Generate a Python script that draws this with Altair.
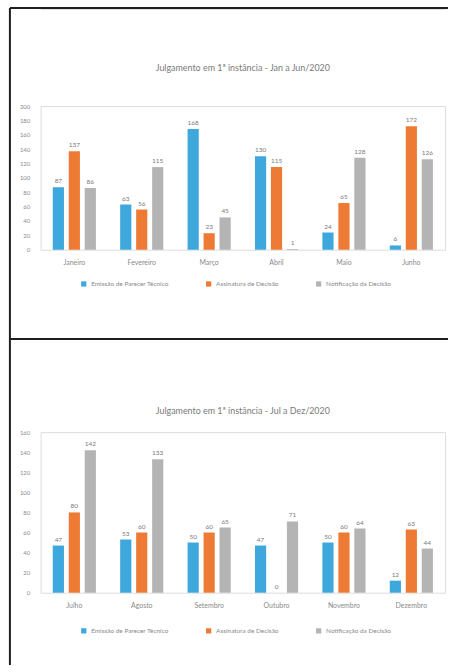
import altair as alt
import pandas as pd

series = ["Emissão de Parecer Técnico", "Assinatura de Decisão", "Notificação da Decisão"]
colors = ["#3ea8dc", "#ee7b35", "#b4b4b4"]

meses1 = ["Janeiro", "Fevereiro", "Março", "Abril", "Maio", "Junho"]
emissao1 = [87, 63, 168, 130, 24, 6]
assinatura1 = [137, 56, 23, 115, 65, 172]
notificacao1 = [86, 115, 45, 1, 128, 126]

meses2 = ["Julho", "Agosto", "Setembro", "Outubro", "Novembro", "Dezembro"]
emissao2 = [47, 53, 50, 47, 50, 12]
assinatura2 = [80, 60, 60, 0, 60, 63]
notificacao2 = [142, 133, 65, 71, 64, 44]

title1 = "Julgamento em 1ª instância - Jan a Jun/2020"
title2 = "Julgamento em 1ª instância - Jul a Dez/2020"

FONT = "Lato"
TXT = "#8a8a8a"
W = 408


def make_df(meses, a, b, c):
    rows = []
    for i, m in enumerate(meses):
        for s, vals in zip(series, (a, b, c)):
            rows.append({"mes": m, "serie": s, "valor": vals[i]})
    return pd.DataFrame(rows)


def panel(df, meses, title, ymax, height, toff, legy):
    x = alt.X(
        "mes:N", sort=meses, title=None,
        scale=alt.Scale(paddingInner=0.36, paddingOuter=0.18),
        axis=alt.Axis(labelAngle=0, domain=False, ticks=False, labelFontSize=7,
                      labelColor=TXT, labelPadding=9, labelFont=FONT),
    )
    xo = alt.XOffset("serie:N", sort=series, scale=alt.Scale(paddingInner=0.3))
    y = alt.Y(
        "valor:Q", title=None,
        scale=alt.Scale(domain=[0, ymax], nice=False),
        axis=alt.Axis(values=list(range(0, ymax + 1, 20)), grid=False, domain=False,
                      ticks=False, labelFontSize=6, labelColor=TXT, labelPadding=11,
                      labelFont=FONT),
    )
    color = alt.Color(
        "serie:N", sort=series,
        scale=alt.Scale(domain=series, range=colors),
        legend=alt.Legend(title=None, orient="none", legendX=40, legendY=legy,
                          direction="horizontal",
                          symbolType="square", symbolSize=28, labelFontSize=6.5,
                          labelColor=TXT, labelFont=FONT, columnPadding=36),
    )
    base = alt.Chart(df)
    bars = base.mark_bar().encode(x=x, xOffset=xo, y=y, color=color)
    labels = base.mark_text(dy=-6, fontSize=6.5, color="#7a7a7a", font=FONT).encode(
        x=x, xOffset=xo, y=y, text="valor:Q"
    )
    return alt.layer(bars, labels).properties(
        width=W, height=height,
        title=alt.TitleParams(title, fontSize=9, color="#7a7a7a", fontWeight="normal",
                              font=FONT, offset=toff, anchor="middle"),
    )


# decorative frame of the photographed sheet (top border, separator, left border)
one = pd.DataFrame({"k": [0]})
frame_lines = [(-31, 411, 0, 0), (-31, 411, 334, 334), (-31, -31, 0, 663)]
frame = alt.layer(*[
    alt.Chart(one).mark_rule(color="#1e1e1e", strokeWidth=2).encode(
        x=alt.value(a), x2=alt.value(b), y=alt.value(c), y2=alt.value(d)
    )
    for (a, b, c, d) in frame_lines
]).properties(width=W, height=1)

top = panel(make_df(meses1, emissao1, assinatura1, notificacao1), meses1, title1, 200, 145,
            30, 176)
bottom = panel(make_df(meses2, emissao2, assinatura2, notificacao2), meses2, title2, 160, 162,
               13, 197)

inner = alt.vconcat(top, bottom, spacing=184, bounds="flush").resolve_scale(
    color="independent", x="independent", y="independent", xOffset="independent"
).resolve_legend(color="independent")

chart = alt.vconcat(frame, inner, spacing=98, bounds="flush").properties(
    padding={"left": 8, "top": 3, "right": 0, "bottom": 0}
).configure_view(stroke=None).configure(background="white")

chart.save("out.html", embed_options={"renderer": "svg", "actions": False})
